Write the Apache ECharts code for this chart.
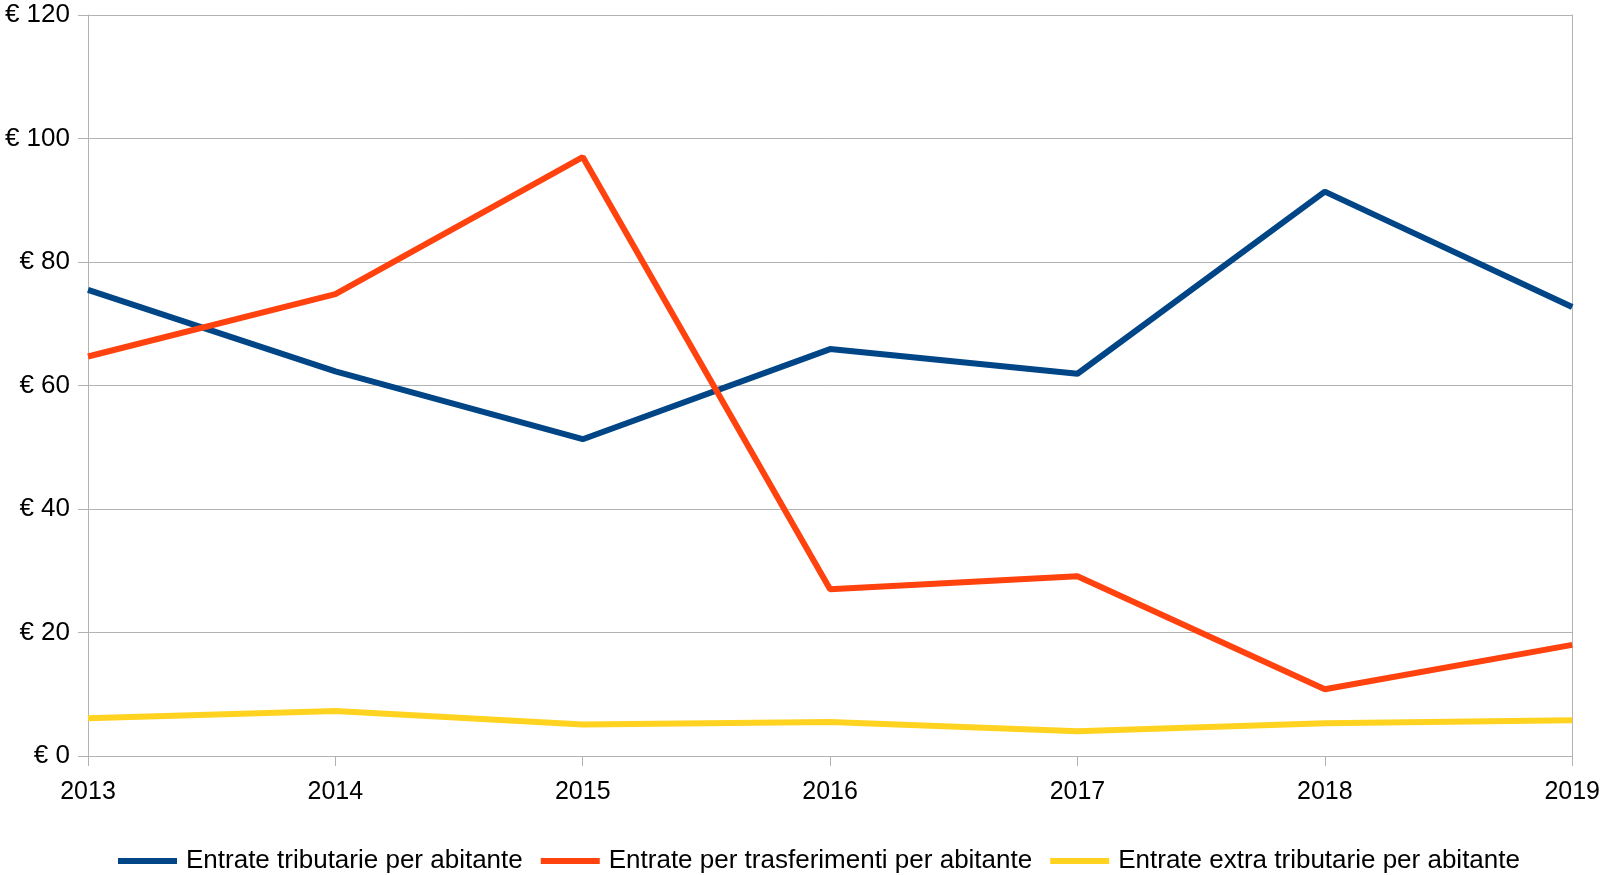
<!DOCTYPE html>
<html>
<head>
<meta charset="utf-8">
<script src="https://cdn.jsdelivr.net/npm/echarts@6/dist/echarts.min.js"></script>
<style>
  html, body { margin: 0; padding: 0; background: #fff; }
  #chart { width: 1603px; height: 875px; }
</style>
</head>
<body>
<div id="chart"></div>
<script>
// Revenue per inhabitant, 2013–2019 (euro)
const years = ['2013', '2014', '2015', '2016', '2017', '2018', '2019'];
const tributarie = [75.5, 62.3, 51.3, 65.9, 61.9, 91.4, 72.7];
const trasferimenti = [64.7, 74.8, 97.0, 27.0, 29.1, 10.8, 18.0];
const extraTributarie = [6.1, 7.3, 5.1, 5.5, 4.0, 5.3, 5.8];
const seriesNames = [
  'Entrate tributarie per abitante',
  'Entrate per trasferimenti per abitante',
  'Entrate extra tributarie per abitante'
];
const colors = ['#004586', '#ff420e', '#ffd320'];

const font = 'Liberation Sans, Arial, sans-serif';
const gridColor = '#b3b3b3';

const chart = echarts.init(document.getElementById('chart'), null, { renderer: 'canvas' });

function lineSeries(name, data, color) {
  return {
    name: name,
    type: 'line',
    data: data,
    symbol: 'none',
    lineStyle: { color: color, width: 6 },
    itemStyle: { color: color },
    animation: false
  };
}

chart.setOption({
  animation: false,
  color: colors,
  grid: { left: 88, right: 28, top: 15, bottom: 119, containLabel: false },
  legend: {
    top: 848,
    left: 118,
    padding: 0,
    itemWidth: 59,
    itemHeight: 6,
    itemGap: 18,
    icon: 'rect',
    textStyle: { fontFamily: font, fontSize: 26, color: '#000', padding: [0, 0, 0, 4] },
    data: seriesNames
  },
  xAxis: {
    type: 'category',
    data: years,
    boundaryGap: false,
    axisLine: { lineStyle: { color: gridColor, width: 1 } },
    axisTick: { show: true, length: 10, lineStyle: { color: gridColor } },
    axisLabel: { fontFamily: font, fontSize: 25, color: '#000', margin: 24 },
    splitLine: { show: false }
  },
  yAxis: [
    {
      type: 'value',
      min: 0,
      max: 120,
      interval: 20,
      axisLine: { show: true, lineStyle: { color: gridColor, width: 1 } },
      axisTick: { show: true, length: 10, lineStyle: { color: gridColor } },
      axisLabel: {
        fontFamily: font, fontSize: 26, color: '#000', margin: 18,
        formatter: v => '€ ' + v
      },
      splitLine: { show: true, lineStyle: { color: gridColor, width: 1 } }
    },
    {
      type: 'value',
      position: 'right',
      min: 0,
      max: 120,
      interval: 20,
      axisLine: { show: true, lineStyle: { color: gridColor, width: 1 } },
      axisTick: { show: false },
      axisLabel: { show: false },
      splitLine: { show: false }
    }
  ],
  series: [
    lineSeries(seriesNames[0], tributarie, colors[0]),
    lineSeries(seriesNames[1], trasferimenti, colors[1]),
    lineSeries(seriesNames[2], extraTributarie, colors[2])
  ]
});
</script>
</body>
</html>
